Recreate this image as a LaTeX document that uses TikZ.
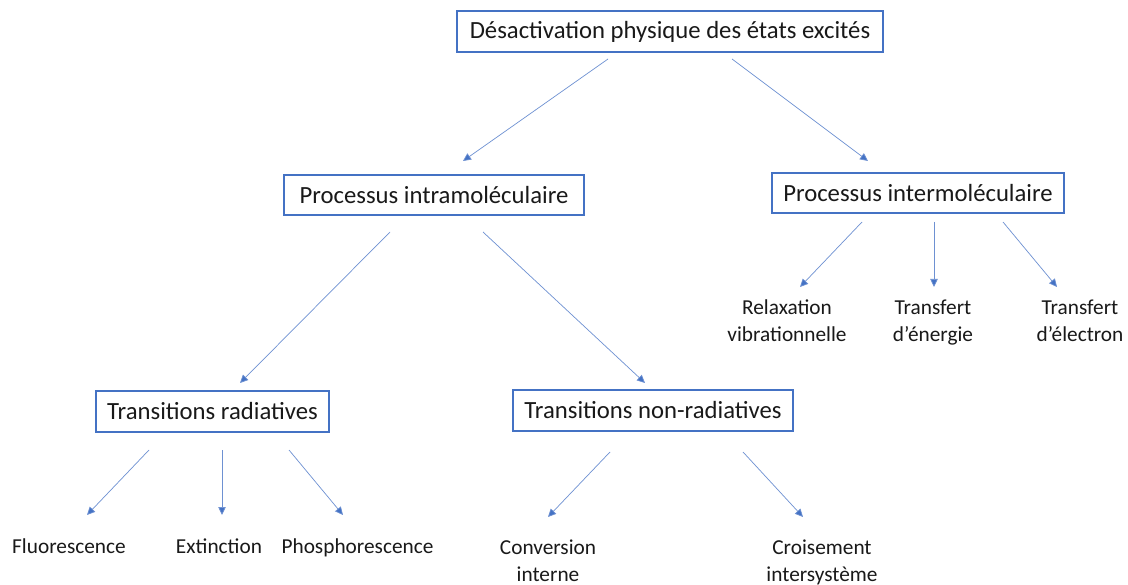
\documentclass[tikz,border=0pt]{standalone}
\usepackage{fontspec}
\setmainfont{Carlito}
\usetikzlibrary{arrows.meta}
\definecolor{boxblue}{RGB}{68,114,196}
\definecolor{lineblue}{RGB}{110,145,210}
\tikzset{
  box/.style={draw=boxblue, line width=1.1pt, inner sep=0pt, font=\fontsize{24.7}{30}\selectfont, text=black!90},
  leaf/.style={inner sep=0pt, align=center, anchor=base, font=\fontsize{21.3}{27}\selectfont, text=black!90},
  conn/.style={draw=lineblue, line width=0.7pt, -{Triangle[length=8pt,width=7.5pt,fill=boxblue]}}
}
\begin{document}
\begin{tikzpicture}[x=1pt,y=-1pt]
\useasboundingbox (0,0) rectangle (1128,585);
\fill[white] (0,0) rectangle (1128,585);
% boxes
\node[box, minimum width=426pt, minimum height=41pt] (top) at (670,31.5) {Désactivation physique des états excités};
\node[box, minimum width=300pt, minimum height=40pt] (intra) at (434,195) {Processus intramoléculaire};
\node[box, minimum width=292pt, minimum height=40pt] (inter) at (918,193) {Processus intermoléculaire};
\node[box, minimum width=233pt, minimum height=41pt] (rad) at (212.5,411.5) {Transitions radiatives};
\node[box, minimum width=280pt, minimum height=41pt] (nonrad) at (653,410.5) {Transitions non-radiatives};
% leaves (anchored at last baseline)
\node[leaf] (relax) at (787,342) {Relaxation\\vibrationnelle};
\node[leaf] (tener) at (933,342) {Transfert\\d’énergie};
\node[leaf] (telec) at (1080,342) {Transfert\\d’électron};
\node[leaf] (fluo) at (69,553) {Fluorescence};
\node[leaf] (ext) at (219,553) {Extinction};
\node[leaf] (phos) at (357.5,553) {Phosphorescence};
\node[leaf] (conv) at (548,581) {Conversion\\interne};
\node[leaf] (crois) at (822,581) {Croisement\\intersystème};
% connector ends
\coordinate (a1s) at (608,59);  \coordinate (a1e) at (463,161);
\coordinate (a2s) at (732,59);  \coordinate (a2e) at (868,161);
\coordinate (b1s) at (390,232); \coordinate (b1e) at (240,383);
\coordinate (b2s) at (483,232); \coordinate (b2e) at (645,383);
\coordinate (c1s) at (862,222); \coordinate (c1e) at (800,287);
\coordinate (c2s) at (934,222); \coordinate (c2e) at (934,287);
\coordinate (c3s) at (1003,222); \coordinate (c3e) at (1057,287);
\coordinate (d1s) at (149,450); \coordinate (d1e) at (87,515);
\coordinate (d2s) at (222,450); \coordinate (d2e) at (222,515);
\coordinate (d3s) at (289,450); \coordinate (d3e) at (343,515);
\coordinate (e1s) at (610,452); \coordinate (e1e) at (548,517);
\coordinate (e2s) at (743,452); \coordinate (e2e) at (803,517);
% connectors
\draw[conn] (a1s) -- (a1e);
\draw[conn] (a2s) -- (a2e);
\draw[conn] (b1s) -- (b1e);
\draw[conn] (b2s) -- (b2e);
\draw[conn] (c1s) -- (c1e);
\draw[conn] (c2s) -- (c2e);
\draw[conn] (c3s) -- (c3e);
\draw[conn] (d1s) -- (d1e);
\draw[conn] (d2s) -- (d2e);
\draw[conn] (d3s) -- (d3e);
\draw[conn] (e1s) -- (e1e);
\draw[conn] (e2s) -- (e2e);
\end{tikzpicture}
\end{document}
